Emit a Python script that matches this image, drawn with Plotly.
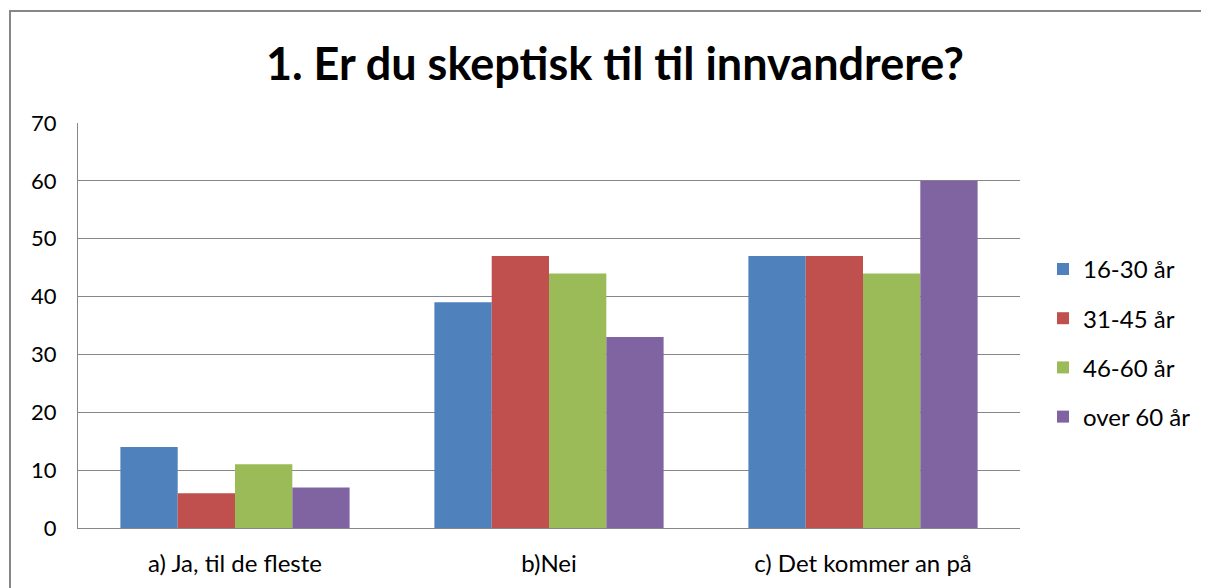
import plotly.graph_objects as go

categories = ["a) Ja, til de fleste", "b)Nei", "c) Det kommer an på"]
series_names = ["16-30 år", "31-45 år", "46-60 år", "over 60 år"]
values_16_30 = [14, 39, 47]
values_31_45 = [6, 47, 47]
values_46_60 = [11, 44, 44]
values_over60 = [7, 33, 60]
colors = ["#4F81BD", "#C0504D", "#9BBB59", "#8064A2"]
title_text = "1. Er du skeptisk til til innvandrere?"

FONT = "Lato"
fig = go.Figure()
for i, (name, vals) in enumerate(zip(series_names, [values_16_30, values_31_45, values_46_60, values_over60])):
    fig.add_trace(go.Bar(x=categories, y=vals, name=name, marker_color=colors[i],
                         marker_line_width=0, legendgroup=str(i)))

L, T, R, B = 70, 115, 197, 68
fig.update_layout(
    width=1209, height=588,
    margin=dict(l=L, r=R, t=T, b=B),
    paper_bgcolor="white", plot_bgcolor="white",
    barmode="group", bargap=0.27, bargroupgap=0,
    font=dict(family=FONT, size=22, color="black"),
    title=dict(text="<b>" + title_text + "</b>", x=0.502, xanchor="center",
               y=1 - 56 / 588, yanchor="middle",
               font=dict(family=FONT, size=45, color="black")),
    legend=dict(x=1.0244, xanchor="left", y=0.457, yanchor="middle",
                font=dict(family=FONT, size=24), traceorder="grouped",
                tracegroupgap=15, bgcolor="rgba(0,0,0,0)"),
    showlegend=True,
)
fig.update_yaxes(range=[0, 70], dtick=10, showgrid=True, gridcolor="#878787", gridwidth=1,
                 showline=True, linecolor="#878787", linewidth=1, ticks="",
                 zeroline=False, tickfont=dict(family=FONT, size=22), ticklabelstandoff=16)
fig.update_xaxes(showline=True, linecolor="#878787", linewidth=1, showgrid=False,
                 tickfont=dict(family=FONT, size=24), ticks="", ticklabelstandoff=14)

# outer chart border
fig.add_shape(type="rect", xref="paper", yref="paper",
              x0=(2 - L) / 942, x1=1.4, y0=-0.4, y1=(520 - 3) / 405,
              line=dict(color="#878787", width=2), fillcolor="rgba(0,0,0,0)", layer="below")

fig.write_html("out.html")
